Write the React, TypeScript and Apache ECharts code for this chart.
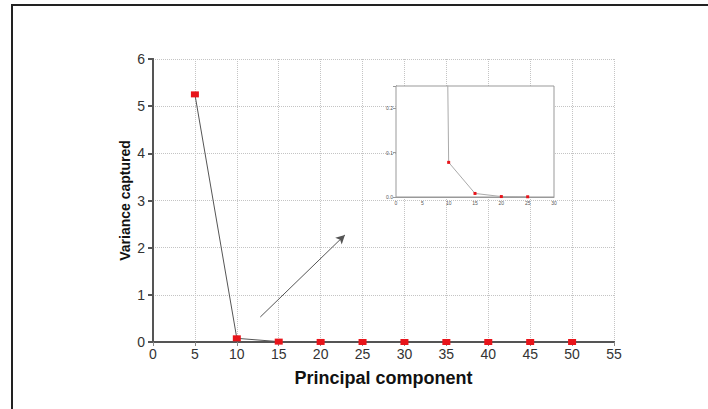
import React, { useEffect, useRef } from "react";
import * as echarts from "echarts";

const components = [5, 10, 15, 20, 25, 30, 35, 40, 45, 50];
const variance = [5.25, 0.078, 0.008, 0.001, 0.0005, 0, 0, 0, 0, 0];
const insetPointCount = 5;
const xAxisTitle = "Principal component";
const yAxisTitle = "Variance captured";
const arrowFrom = [12.8, 0.53];
const arrowTo = [22.9, 2.27];

export default function App() {
  const ref = useRef<HTMLDivElement>(null);
  useEffect(() => {
    if (!ref.current) return;
    const chart = echarts.init(ref.current, undefined, { renderer: "svg" });
    const pts = components.map((c, i) => [c, variance[i]]);
    const insetPts = pts.slice(0, insetPointCount);
    const font = "'Liberation Sans', Arial, sans-serif";
    const gridStyle = { show: true, lineStyle: { color: "#c4c4c4", type: "dotted", width: 1 } };
    chart.setOption({
      animation: false,
      backgroundColor: "#fff",
      graphic: [
        {
          type: "rect",
          shape: { x: 12, y: 5, width: 720, height: 430 },
          style: { fill: "none", stroke: "#222", lineWidth: 2 },
          silent: true,
        },
      ],
      grid: [
        { left: 153, top: 59, width: 461, height: 283, show: false },
        { left: 396, top: 86, width: 158, height: 111, show: true, backgroundColor: "#fff", borderColor: "#999", borderWidth: 1, z: 5 },
      ],
      xAxis: [
        {
          gridIndex: 0, type: "value", min: 0, max: 55, interval: 5,
          name: xAxisTitle, nameLocation: "middle", nameGap: 27, nameMoveOverlap: false,
          nameTextStyle: { fontFamily: font, fontWeight: "bold", fontSize: 18, color: "#111" },
          axisLine: { show: true, onZero: false, lineStyle: { color: "#555", width: 2 } },
          axisTick: { show: false },
          axisLabel: { fontFamily: font, fontSize: 14, color: "#333", margin: 5 },
          splitLine: gridStyle,
        },
        {
          gridIndex: 0, type: "value", min: 0, max: 55, interval: 5, position: "top",
          axisLine: { show: true, lineStyle: { color: "#555", width: 2 } },
          axisTick: { show: true, inside: true, length: 4, lineStyle: { color: "#888" } },
          axisLabel: { show: false }, splitLine: { show: false },
        },
        {
          gridIndex: 1, type: "value", min: 0, max: 30, interval: 5,
          axisLine: { show: true, onZero: false, lineStyle: { color: "#999", width: 1 } },
          axisTick: { show: false },
          axisLabel: { fontFamily: font, fontSize: 5, color: "#555", margin: 3 },
          splitLine: { show: false },
        },
      ],
      yAxis: [
        {
          gridIndex: 0, type: "value", min: 0, max: 6, interval: 1,
          name: yAxisTitle, nameLocation: "middle", nameGap: 21, nameMoveOverlap: false,
          nameTextStyle: { fontFamily: font, fontWeight: "bold", fontSize: 14, color: "#111" },
          axisLine: { show: true, onZero: false, lineStyle: { color: "#555", width: 2 } },
          axisTick: { show: false },
          axisLabel: { fontFamily: font, fontSize: 14, color: "#333", margin: 8 },
          splitLine: gridStyle,
        },
        {
          gridIndex: 0, type: "value", min: 0, max: 6, interval: 1, position: "right",
          axisLine: { show: true, lineStyle: { color: "#555", width: 2 } },
          axisTick: { show: true, inside: true, length: 5, lineStyle: { color: "#555", width: 2 } },
          axisLabel: { show: false }, splitLine: { show: false },
        },
        {
          gridIndex: 1, type: "value", min: 0, max: 0.25, interval: 0.1,
          axisLine: { show: true, onZero: false, lineStyle: { color: "#999", width: 1 } },
          axisTick: { show: false },
          axisLabel: { fontFamily: font, fontSize: 5, color: "#555", margin: 3, showMaxLabel: false, formatter: (v: number) => v.toFixed(1) },
          splitLine: { show: false },
        },
        {
          gridIndex: 1, type: "value", min: 0, max: 0.25, interval: 0.1, position: "right",
          axisLine: { show: true, lineStyle: { color: "#999", width: 1 } },
          axisTick: { show: true, inside: true, length: 3, lineStyle: { color: "#999" } },
          axisLabel: { show: false }, splitLine: { show: false },
        },
      ],
      series: [
        {
          type: "line", xAxisIndex: 0, yAxisIndex: 0, data: pts,
          symbol: "rect", symbolSize: [8, 6],
          itemStyle: { color: "#e8141a" },
          lineStyle: { color: "#555", width: 1 },
          markLine: {
            silent: true, symbol: ["none", "arrow"], symbolSize: [7, 9],
            label: { show: false },
            lineStyle: { color: "#555", width: 1, type: "solid" },
            data: [[{ coord: arrowFrom }, { coord: arrowTo }]],
          },
          z: 3,
        },
        {
          type: "line", xAxisIndex: 2, yAxisIndex: 2, data: insetPts, clip: true,
          symbol: "rect", symbolSize: [3, 3],
          itemStyle: { color: "#e8141a" },
          lineStyle: { color: "#aaa", width: 1 },
          z: 10,
        },
      ],
    });
    return () => chart.dispose();
  }, []);
  return <div ref={ref} style={{ position: "fixed", left: 0, top: 0, width: 708, height: 409 }} />;
}
